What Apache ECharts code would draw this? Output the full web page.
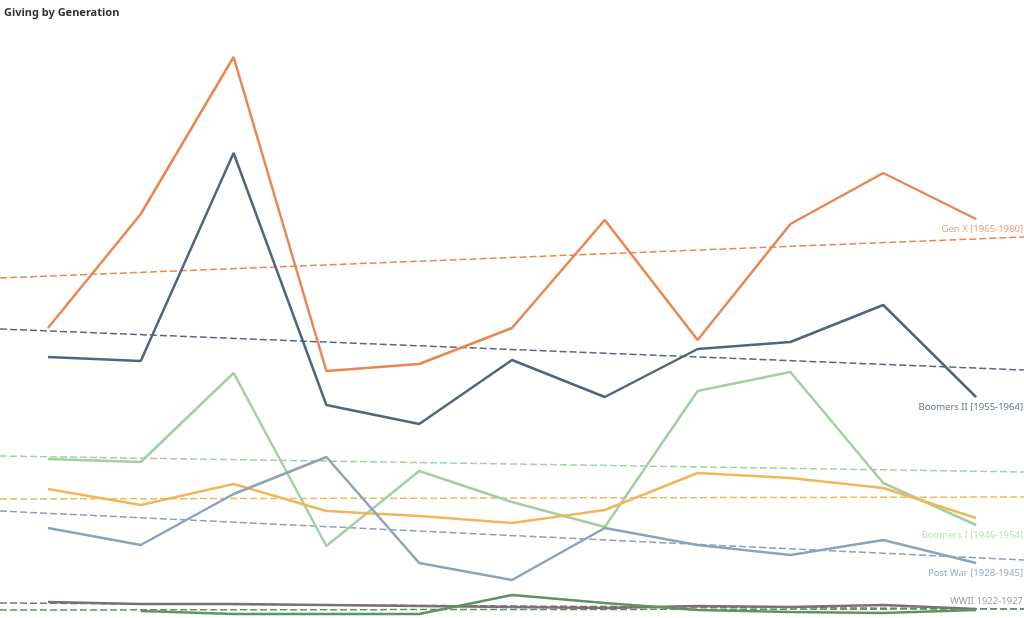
<!DOCTYPE html>
<html>
<head>
<meta charset="utf-8">
<script src="https://cdn.jsdelivr.net/npm/echarts@6/dist/echarts.min.js"></script>
<style>
html,body{margin:0;padding:0;background:#fff;}
#c{width:1024px;height:618px;}
</style>
</head>
<body>
<div id="c"></div>
<script>
// Categories (11 periods, unlabeled in the original)
const categories = [0,1,2,3,4,5,6,7,8,9,10];

// Series values
const genX      = [28.6, 40.0, 55.7, 24.3, 25.0, 28.6, 39.4, 27.4, 39.0, 44.1, 39.5];
const boomersII = [25.7, 25.3, 46.1, 20.9, 19.0, 25.4, 21.7, 26.5, 27.2, 30.9, 21.7];
const boomersI  = [15.5, 15.2, 24.1, 6.8, 14.3, 11.2, 8.7, 22.3, 24.2, 13.1, 8.9];
const gold      = [12.5, 10.9, 13.0, 10.3, 9.8, 9.1, 10.4, 14.1, 13.6, 12.6, 9.6];
const postWar   = [8.6, 6.9, 12.0, 15.7, 5.1, 3.4, 8.6, 6.9, 5.9, 7.4, 5.1];
const wwii      = [1.2, 1.0, 1.0, 0.9, 0.8, 0.7, 0.6, 0.8, 0.7, 0.9, 0.5];
const darkGreen = [null, 0.3, 0.0, 0.0, 0.0, 1.9, 1.1, 0.4, 0.2, 0.1, 0.4];

// Trend line values at the left and right edge of the plot
const trendGenX      = [33.6, 37.7];
const trendBoomersII = [28.5, 24.4];
const trendBoomersI  = [15.8, 14.2];
const trendGold      = [11.5, 11.7];
const trendPostWar   = [10.3, 5.4];
const trendWWII      = [1.1, 0.5];
const trendDarkGreen = [0.4, 0.5];

const names = {
  genX: 'Gen X [1965-1980]',
  boomersII: 'Boomers II [1955-1964]',
  boomersI: 'Boomers I [1946-1954]',
  postWar: 'Post War [1928-1945]',
  wwii: 'WWII 1922-1927'
};

const XMIN = -0.517, XMAX = 10.517;

function lineSeries(name, values, color, labelColor, labelPos) {
  const n = values.length;
  const data = values.map((v, i) => {
    if (i === n - 1 && labelColor) {
      return {
        value: [categories[i], v],
        symbol: 'circle',
        symbolSize: 1,
        label: {
          show: true,
          position: labelPos,
          distance: labelPos === 'top' ? 2 : 5,
          formatter: name,
          align: 'right',
          offset: [47, 0],
          color: labelColor,
          fontSize: 9.5,
          fontFamily: 'Noto Sans'
        }
      };
    }
    return [categories[i], v];
  });
  return {
    name: name,
    type: 'line',
    data: data,
    symbol: 'none',
    connectNulls: false,
    lineStyle: { color: color, width: 2.5 },
    itemStyle: { color: color },
    z: 3,
    silent: true
  };
}

function trendSeries(vals, color) {
  return {
    type: 'line',
    data: [[XMIN, vals[0]], [XMAX, vals[1]]],
    symbol: 'none',
    lineStyle: { color: color, width: 1.5, type: [7, 3] },
    z: 2,
    silent: true
  };
}

const chart = echarts.init(document.getElementById('c'), null, { renderer: 'canvas' });
chart.setOption({
  backgroundColor: '#ffffff',
  animation: false,
  title: {
    text: 'Giving by Generation',
    left: 4,
    top: 7,
    padding: 0,
    textStyle: { fontSize: 11, fontWeight: 'bold', color: '#333333', fontFamily: 'Noto Sans' }
  },
  grid: { left: 0, right: 0, top: 0, bottom: 0 },
  xAxis: {
    type: 'value', min: XMIN, max: XMAX, show: false
  },
  yAxis: {
    type: 'value', min: -0.4, max: 61.4, show: false
  },
  series: [
    trendSeries(trendGenX, '#e8874f'),
    trendSeries(trendBoomersII, '#56697c'),
    trendSeries(trendBoomersI, '#a6d0a4'),
    trendSeries(trendGold, '#f1b95e'),
    trendSeries(trendPostWar, '#8d9fb3'),
    trendSeries(trendWWII, '#7d7272'),
    trendSeries(trendDarkGreen, '#5e9463'),
    lineSeries(names.genX, genX, '#e8874f', '#e9a07a', 'bottom'),
    lineSeries(names.boomersII, boomersII, '#51667a', '#66778a', 'bottom'),
    lineSeries(names.boomersI, boomersI, '#a3cfa2', '#b9ddb7', 'bottom'),
    lineSeries('Gold', gold, '#f1b65a', null, null),
    lineSeries(names.postWar, postWar, '#8ea3b6', '#9aa9b7', 'bottom'),
    lineSeries(names.wwii, wwii, '#7d7070', '#a0a0a0', 'top'),
    lineSeries('Dark Green', darkGreen, '#5c9462', null, null)
  ]
});
</script>
</body>
</html>
